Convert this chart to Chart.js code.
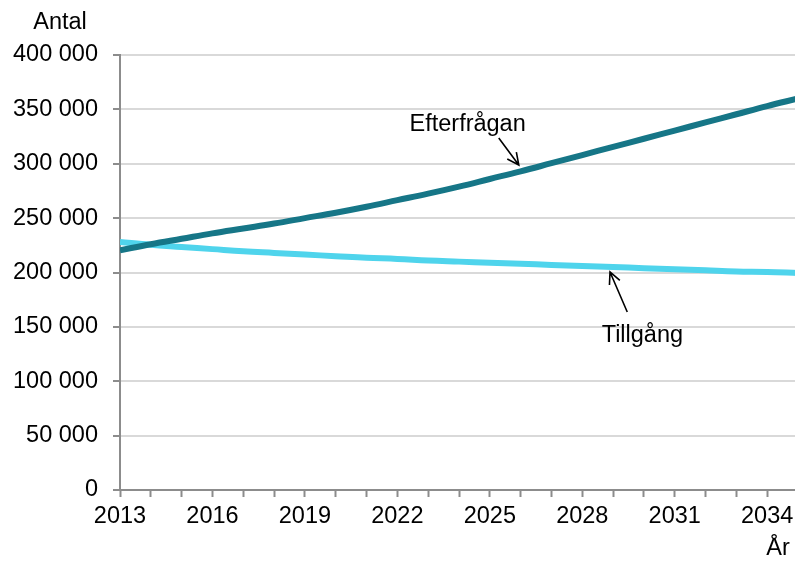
<!DOCTYPE html>
<html>
<head>
<meta charset="utf-8">
<script src="https://cdn.jsdelivr.net/npm/chart.js@4"></script>
<style>
  body { margin: 0; background: #fff; overflow: hidden; }
  #wrap { width: 803px; height: 563px; }
</style>
</head>
<body>
<div id="wrap"><canvas id="chart"></canvas></div>
<script>
// ── DATA ─────────────────────────────────────────────────
const years = [2013, 2014, 2015, 2016, 2017, 2018, 2019, 2020, 2021, 2022, 2023, 2024,
               2025, 2026, 2027, 2028, 2029, 2030, 2031, 2032, 2033, 2034, 2035];
const demand = [220500, 226000, 231000, 236000, 240500, 245000, 250000, 255000, 260500, 266500, 272500, 279000,
                286000, 293000, 300500, 308000, 315500, 323000, 330500, 338000, 345500, 353000, 360000];
const supply = [228000, 225500, 223500, 221500, 219500, 218000, 216500, 215000, 213500, 212500, 211000, 210000,
                209000, 208000, 207000, 206000, 205000, 204000, 203000, 202000, 201000, 200500, 199500];
const yTicks = [0, 50000, 100000, 150000, 200000, 250000, 300000, 350000, 400000];

// annotations in data units: [label, textX, textY, arrowFromX, arrowFromY, arrowToX, arrowToY]
const notes = [
  ['Efterfrågan', 2024.28, 336500, 2025.29, 323700, 2025.94, 298900],
  ['Tillgång',    2029.95, 142500, 2029.46, 163700, 2028.90, 200500]
];

const FONT = "'Liberation Sans', Arial, sans-serif";
const fmt = v => v === 0 ? '0' : Math.floor(v / 1000) + ' ' + String(v % 1000).padStart(3, '0');

// ── TEXT + ARROWS ────────────────────────────────────────
const extras = {
  id: 'extras',
  afterDatasetsDraw(chart) {
    const { ctx, scales: { x, y } } = chart;
    ctx.save();
    ctx.fillStyle = '#000';
    ctx.strokeStyle = '#000';
    ctx.lineWidth = 1.6;
    ctx.font = '23.5px ' + FONT;
    ctx.textAlign = 'center';
    ctx.textBaseline = 'middle';
    notes.forEach(([txt, tx, ty, fx, fy, ax, ay]) => {
      ctx.fillText(txt, x.getPixelForValue(tx), y.getPixelForValue(ty));
      const x1 = x.getPixelForValue(fx), y1 = y.getPixelForValue(fy);
      const x2 = x.getPixelForValue(ax), y2 = y.getPixelForValue(ay);
      const ang = Math.atan2(y2 - y1, x2 - x1);
      ctx.beginPath();
      ctx.moveTo(x1, y1); ctx.lineTo(x2, y2);
      ctx.moveTo(x2 - 13 * Math.cos(ang - 0.45), y2 - 13 * Math.sin(ang - 0.45));
      ctx.lineTo(x2, y2);
      ctx.lineTo(x2 - 13 * Math.cos(ang + 0.45), y2 - 13 * Math.sin(ang + 0.45));
      ctx.stroke();
    });
    ctx.fillText('Antal', 60, 23);
    ctx.fillText('År', 778, 549);
    ctx.restore();
  }
};

// ── CHART ────────────────────────────────────────────────
new Chart(document.getElementById('chart'), {
  type: 'line',
  data: {
    datasets: [
      { label: 'Efterfrågan', data: years.map((yr, i) => ({ x: yr, y: demand[i] })),
        borderColor: '#167687', borderWidth: 6, pointRadius: 0, tension: 0.4 },
      { label: 'Tillgång', data: years.map((yr, i) => ({ x: yr, y: supply[i] })),
        borderColor: '#4fd4ec', borderWidth: 6, pointRadius: 0, tension: 0.4 }
    ]
  },
  options: {
    responsive: true,
    maintainAspectRatio: false,
    animation: false,
    layout: { padding: { top: 55, right: 0, bottom: 0, left: 0 } },
    plugins: { legend: { display: false }, tooltip: { enabled: false } },
    scales: {
      x: {
        type: 'linear', min: 2013, max: 2035,
        afterFit: s => { s.height = 73; },
        afterBuildTicks: s => { s.ticks = years.map(v => ({ value: v })); },
        border: { color: '#8c8c8c', width: 2 },
        grid: { drawOnChartArea: false, drawTicks: true, tickLength: 7, tickColor: '#8c8c8c', tickWidth: 2 },
        ticks: {
          autoSkip: false, maxRotation: 0, padding: 5, color: '#000',
          font: { family: FONT, size: 23.5 },
          callback: v => (v - 2013) % 3 === 0 && v < 2035 ? String(v) : ''
        }
      },
      y: {
        min: 0, max: 400000,
        afterFit: s => { s.width = 120; },
        afterBuildTicks: s => { s.ticks = yTicks.map(v => ({ value: v })); },
        border: { color: '#8c8c8c', width: 2 },
        grid: { color: '#d9d9d9', lineWidth: 2, tickLength: 7, tickColor: '#8c8c8c', tickWidth: 2 },
        ticks: { padding: 15, color: '#000', font: { family: FONT, size: 23.5 }, callback: v => fmt(v) }
      }
    }
  },
  plugins: [extras]
});
</script>
</body>
</html>
